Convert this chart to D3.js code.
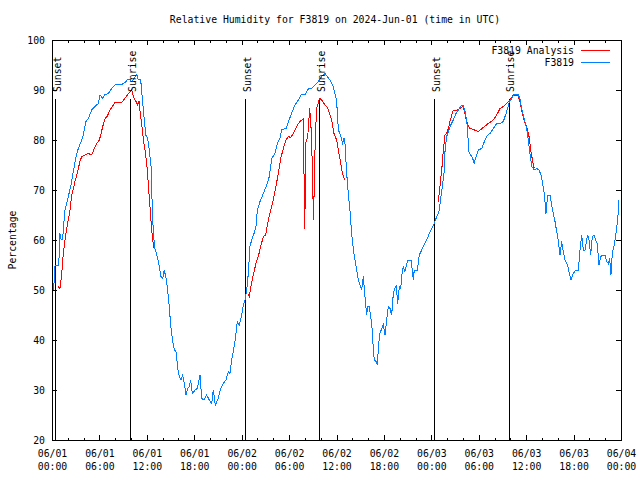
<!DOCTYPE html>
<html><head><meta charset="utf-8">
<script src="https://cdn.jsdelivr.net/npm/d3@7"></script>
<style>
body{margin:0;background:#fff}
svg{display:block}
text{font-family:"DejaVu Sans Mono","Liberation Mono",monospace;font-size:9.8px;fill:#000}
</style>
</head><body>
<svg id="chart" width="640" height="480"></svg>
<script>
// ---- data (hours after 2024-06-01 00:00 UTC) ----
const blueHours=[0.22,0.28,0.38,0.80,0.95,1.01,1.14,1.35,1.43,1.64,1.86,2.06,2.37,2.62,2.82,3.04,3.33,3.76,3.96,4.30,4.59,5.02,5.44,5.86,6.07,6.42,6.71,7.12,7.55,8.10,8.82,9.24,9.58,9.87,10.08,10.38,10.72,10.92,11.22,11.43,11.64,11.86,12.11,12.31,12.53,12.62,12.74,12.91,13.03,13.32,13.58,13.79,14.01,14.21,14.43,14.59,14.80,15.02,15.27,15.48,15.69,15.91,16.11,16.32,16.54,16.74,16.96,17.17,17.37,17.55,17.75,17.97,
18.09,18.39,18.73,18.94,19.23,19.57,19.90,20.21,20.41,20.66,21.04,21.35,21.68,22.02,22.31,22.52,22.74,22.94,23.24,23.45,23.70,24.00,24.21,24.42,24.64,24.84,25.05,25.27,25.56,25.81,25.98,26.32,26.74,27.17,27.50,27.80,28.22,28.51,28.85,29.07,29.61,29.99,30.41,30.75,31.17,31.51,32.01,32.43,32.86,33.28,33.70,34.13,34.54,34.83,35.18,35.52,35.72,
35.94,36.10,36.23,36.44,36.66,36.78,36.95,37.07,37.29,37.49,37.71,37.92,38.12,38.34,38.55,38.76,38.97,39.19,39.39,39.52,39.69,39.82,39.95,40.15,40.33,40.53,40.66,40.78,41.00,41.16,41.34,41.50,41.72,41.92,42.14,42.35,42.55,42.77,42.98,43.19,43.40,43.57,43.74,43.95,44.12,44.29,44.45,44.67,44.88,45.08,45.43,45.59,45.72,45.84,46.22,46.48,46.78,47.07,47.41,47.74,48.05,48.37,48.68,48.97,49.22,49.44,49.60,49.73,49.94,50.23,50.45,50.78,51.12,51.41,51.84,52.04,52.26,52.47,52.60,52.72,52.98,53.23,53.44,
53.52,53.94,54.37,54.79,55.13,55.42,55.84,56.27,56.69,57.11,57.54,57.87,58.17,58.50,58.93,59.22,59.43,59.64,59.85,60.07,60.27,60.48,60.70,61.03,61.33,61.62,61.88,62.09,62.29,62.51,62.72,63.01,63.23,63.43,63.65,63.86,64.06,64.28,64.49,64.70,64.91,65.25,65.46,65.67,65.96,66.30,66.60,66.81,67.03,67.23,67.44,67.66,67.78,67.95,68.16,68.37,68.58,68.80,69.00,69.21,69.43,69.76,69.97,70.19,70.39,70.57,70.73,70.90,71.15,71.36,71.58,71.74];
const blueValues=[50,52.3,54.9,54.9,57.3,61.3,60.2,60.2,62,66,67.3,68.7,70.7,73,74.7,76.7,78.3,80,81,83.7,84.3,86,86.7,87.3,89,88.3,89.1,89.3,90.3,91.2,91.1,91.5,92.1,92.1,91.7,92.3,93.1,92,92.1,88.3,84.7,81,80.3,78,74.7,70,64,60,58.3,56.7,54.7,52.7,52.3,54,52.3,50.7,47.3,43,39.7,38,37.7,34.3,32.7,32,33,31.3,29,30.3,30.7,31.9,29.3,29.7,
30,30.3,33,28.3,28,29,28,27.3,30,27,28.3,30.3,31.3,32,33.7,33.3,36,37.7,40.7,43.7,43,45,47,48,50,53.3,58.7,60,61.3,62.7,66,67.7,69.3,71,72.7,76.3,77.3,79.3,80.3,82.1,82.3,84,85.7,87,88,89,89.1,90.2,90.3,91,91.7,92.7,93.3,92.7,92,91,89.7,
88.3,86,82,81.3,80,79.3,80.3,79.3,73.3,69.3,65.7,61.3,58.3,56,54,52,51,50,52.7,50.3,47,45,46.7,46.7,44.7,42,38,36,35.7,35,39.3,41.3,42.3,43,41,44,46.7,46.3,45,49.3,50.3,51,47.3,50.7,50.3,53.3,54.7,53.7,55.3,56,56,54,52,54,54,57,58,59,60,61.3,62.3,63.3,64.7,65.7,68.7,71.3,73.3,77.7,80.7,82,83,84,85.3,86,87,87,85.7,84,82,77.7,77,76.3,75.3,
76,78,78.3,80,81,81.3,82.3,83.3,83.3,83.7,85.7,87.7,88.3,89.2,89.2,88.3,86.3,85,83.7,82.3,80,77.3,74.7,74,74.3,74,73,71.3,69.3,65.3,69,69,67,65.3,63.7,61.7,60,57,59.7,57.7,56,55,53.3,52,53.3,54,54,58,61,58,58,60,61,60,57,60.7,61,60,59.3,55,56.7,57,57,55.7,55.3,56.3,53,57.3,59,61.3,64,68];

const analysisHours=[0.80,1.01,1.23,1.43,1.64,1.86,2.06,2.28,2.49,2.70,2.91,3.13,3.33,3.54,3.76,4.18,4.59,5.02,5.35,5.66,5.99,6.16,6.42,6.71,7.00,7.34,7.68,7.97,8.82,9.11,9.45,9.78,10.08,10.29,10.63,10.84,11.01,11.22,11.43,11.64,11.86,12.06,12.24,12.40,12.53,12.69,12.91,13.16,
13.5,
24.76,24.97,25.18,25.47,25.81,26.10,26.41,26.74,27.04,27.37,27.67,28.00,28.34,28.63,28.94,29.27,29.61,29.90,30.20,30.53,30.87,31.17,31.51,31.80,31.98,32.14,32.36,32.61,32.84,33.09,33.32,33.49,33.70,33.82,34.00,34.25,34.54,34.83,35.09,35.39,35.68,36.02,36.23,36.44,36.66,36.82,37.01,
37.5,
48.88,49.18,49.39,49.51,49.73,49.94,50.15,50.36,50.58,50.78,51.21,51.63,51.97,52.17,52.39,52.60,52.89,53.31,53.94,54.57,55.21,55.84,56.27,56.69,57.11,57.54,57.95,58.37,58.93,59.22,59.43,59.76,60.07,60.36,60.61,60.90,61.03];
const analysisValues=[50.7,50.3,53.3,57.3,60,62.3,64,66,69,70.3,71.7,73,74.3,75.7,76.7,77,77.3,77,78.3,79.3,80,81,82.7,84.3,84.8,86,86.8,87.5,87.5,88.1,88.8,89.5,90,88.7,87.7,87,87.7,84.7,82,79.3,77,74,70,66.7,63.7,60.7,58.3,58.1,
null,
49.3,48.7,50.7,53,55.3,56.7,58.7,60.7,61,64,66,68,70.7,73.3,76.3,78.3,80,80.7,80.5,81.3,82.3,83.3,83.9,84.2,62.3,79.5,80.7,86.3,81,64,80.7,86.3,87.5,88.3,88.2,87.7,87,86.5,85.5,84,81.3,80,78,76.3,74,73,72,
null,
67.7,72,75.3,78,81,81.3,82.3,83.7,85,85.9,86,86.3,86.7,85.9,84.3,83,82.3,82.1,81.7,82.5,83.3,84,85,86.3,86.7,87.3,88,89,89,87.7,86,83.7,82.7,80.7,77.7,75,74.3];

const sunsetHours=[0.42,24.45,48.4];
const sunriseHours=[9.9,33.85,57.85];
const yTicks=[20,30,40,50,60,70,80,90,100];
const xMajorHours=[0,6,12,18,24,30,36,42,48,54,60,66,72];
const xMinorHours=[2,4,8,10,14,16,20,22,26,28,32,34,38,40,44,46,50,52,56,58,62,64,68,70];
const seriesNames=["F3819 Analysis","F3819"];
const seriesColors=["#ff0000","#0080ff"];
const titleText="Relative Humidity for F3819 on 2024-Jun-01 (time in UTC)";
const yLabel="Percentage";

// ---- chart ----
const base=Date.UTC(2024,5,1);
const toDate=h=>new Date(base+h*3600e3);
const svg=d3.select("#chart");
const L=52,R=621,T=40,B=440;
const x=d3.scaleTime().domain([toDate(0),toDate(72)]).range([L,R]);
const y=d3.scaleLinear().domain([20,100]).range([B,T]);
const fmtD=d3.utcFormat("%m/%d"), fmtT=d3.utcFormat("%H:%M");

const g=svg.append("g").attr("shape-rendering","crispEdges");

// minor x ticks bottom/top
g.append("g").attr("transform",`translate(0,${B})`)
  .call(d3.axisBottom(x).tickValues(xMinorHours.map(toDate)).tickSizeInner(-2.5).tickSizeOuter(0).tickFormat(""))
  .call(s=>s.select(".domain").remove());
g.append("g").attr("transform",`translate(0,${T})`)
  .call(d3.axisTop(x).tickValues(xMinorHours.map(toDate)).tickSizeInner(-2.5).tickSizeOuter(0).tickFormat(""))
  .call(s=>s.select(".domain").remove());
// major x ticks
const gx=g.append("g").attr("transform",`translate(0,${B})`)
  .call(d3.axisBottom(x).tickValues(xMajorHours.map(toDate)).tickSizeInner(-5).tickSizeOuter(0).tickFormat(""));
gx.select(".domain").remove();
gx.selectAll(".tick text").attr("y",null).attr("dy",null).each(function(d){
  const t=d3.select(this);
  t.append("tspan").attr("x",0).attr("y",17).text(fmtD(d));
  t.append("tspan").attr("x",0).attr("y",30).text(fmtT(d));
});
g.append("g").attr("transform",`translate(0,${T})`)
  .call(d3.axisTop(x).tickValues(xMajorHours.map(toDate)).tickSizeInner(-5).tickSizeOuter(0).tickFormat(""))
  .call(s=>s.select(".domain").remove());
// y ticks
const gy=g.append("g").attr("transform",`translate(${L},0)`)
  .call(d3.axisLeft(y).tickValues(yTicks).tickSizeInner(-5).tickSizeOuter(0).tickPadding(7).tickFormat(d3.format("d")));
gy.select(".domain").remove();
g.append("g").attr("transform",`translate(${R},0)`)
  .call(d3.axisRight(y).tickValues(yTicks).tickSizeInner(-5).tickSizeOuter(0).tickFormat(""))
  .call(s=>s.select(".domain").remove());

// sunrise / sunset
const sun=[...sunsetHours.map(h=>({h,label:"Sunset"})),...sunriseHours.map(h=>({h,label:"Sunrise"}))];
g.selectAll("line.sun").data(sun).join("line").attr("class","sun")
  .attr("x1",d=>x(toDate(d.h))).attr("x2",d=>x(toDate(d.h)))
  .attr("y1",y(88.2)).attr("y2",y(20)).attr("stroke","#000").attr("stroke-width",1);
svg.selectAll("text.sun").data(sun).join("text").attr("class","sun")
  .attr("transform",d=>`translate(${x(toDate(d.h))+5.3},${y(89.6)}) rotate(-90)`)
  .attr("text-anchor","start").text(d=>d.label);

// series
const line=d3.line().defined(d=>d.v!=null).x(d=>x(toDate(d.h))).y(d=>y(d.v));
const analysis=analysisHours.map((h,i)=>({h,v:analysisValues[i]}));
const blue=blueHours.map((h,i)=>({h,v:blueValues[i]}));
g.append("path").datum(analysis).attr("d",line).attr("fill","none").attr("stroke",seriesColors[0]).attr("stroke-width",1);
g.append("path").datum(blue).attr("d",line).attr("fill","none").attr("stroke",seriesColors[1]).attr("stroke-width",1);

// border
g.append("rect").attr("x",L).attr("y",T).attr("width",R-L).attr("height",B-T)
  .attr("fill","none").attr("stroke","#000").attr("stroke-width",1);

// legend
const leg=svg.append("g");
seriesNames.forEach((n,i)=>{
  const yy=50+i*12.5;
  leg.append("text").attr("x",574).attr("y",yy+3.5).attr("text-anchor","end").text(n);
  leg.append("line").attr("x1",581).attr("x2",610).attr("y1",yy).attr("y2",yy)
    .attr("stroke",seriesColors[i]).attr("stroke-width",1).attr("shape-rendering","crispEdges");
});

// title & y label
svg.append("text").attr("x",335).attr("y",23).attr("text-anchor","middle").text(titleText);
svg.append("text").attr("transform","translate(16,240) rotate(-90)").attr("text-anchor","middle").text(yLabel);
</script>
</body></html>
